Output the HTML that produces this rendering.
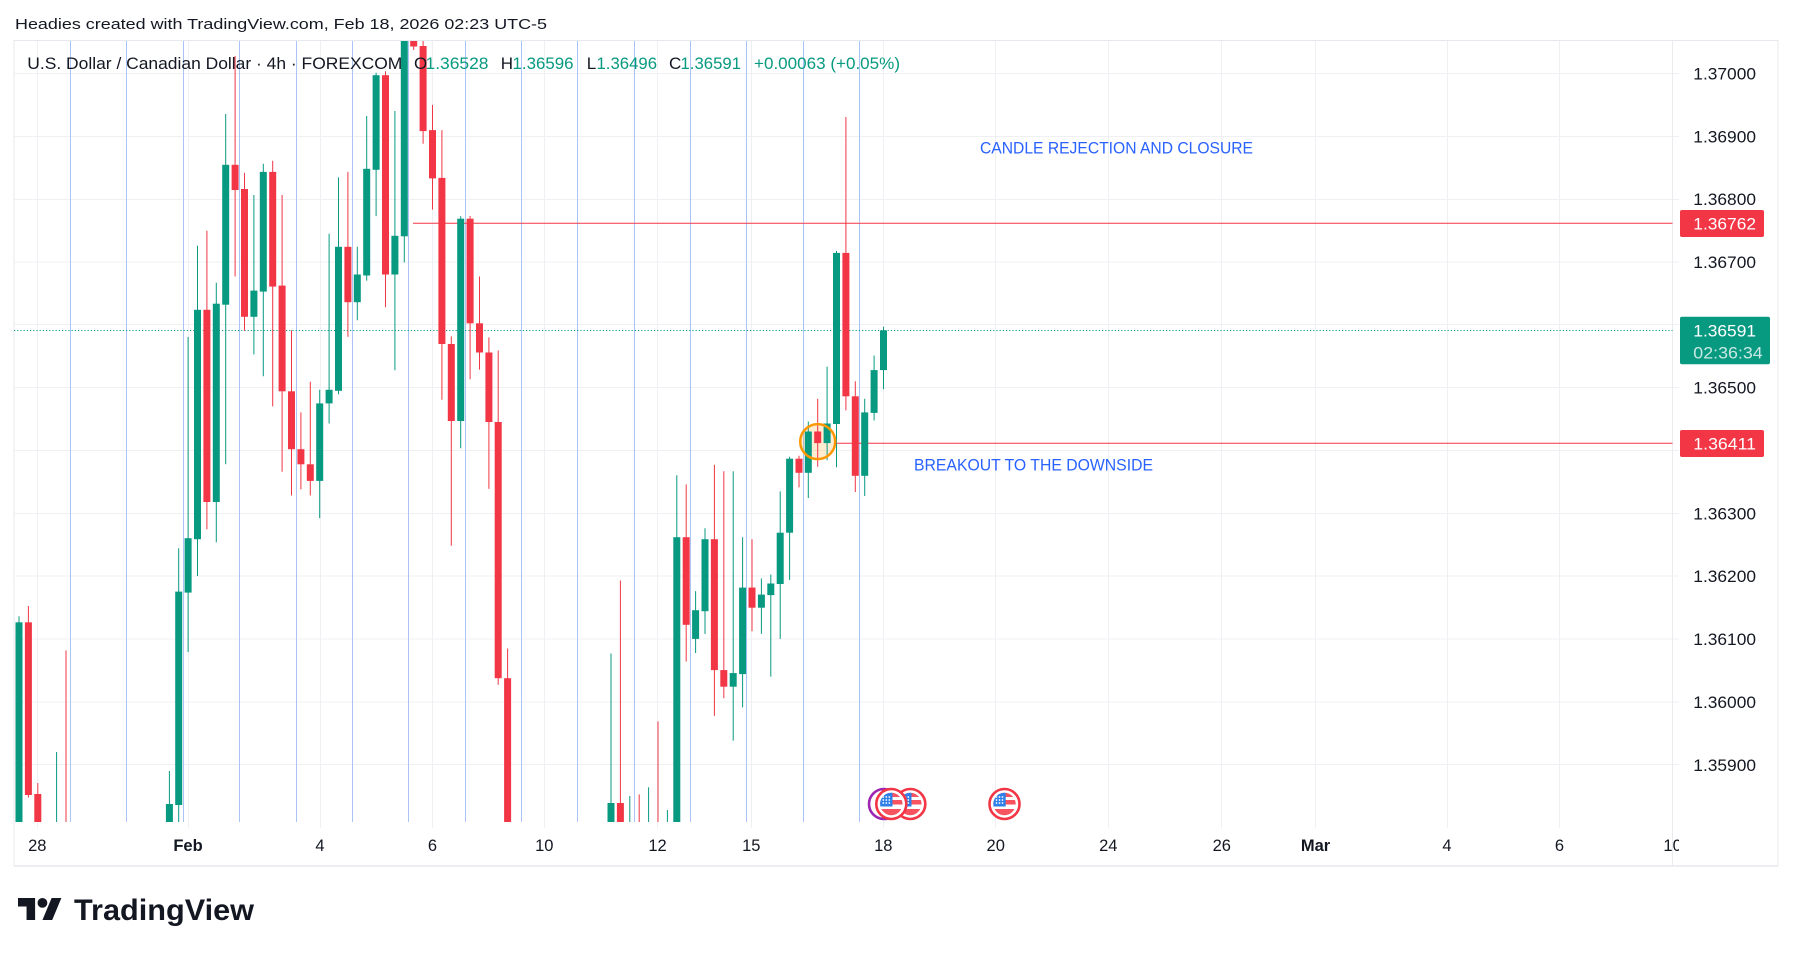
<!DOCTYPE html>
<html><head><meta charset="utf-8">
<style>
html,body{margin:0;padding:0;background:#fff;}
svg{display:block;}
text{font-family:"Liberation Sans",sans-serif;}
</style></head>
<body>
<svg width="1793" height="955" viewBox="0 0 1793 955" xmlns="http://www.w3.org/2000/svg">
<defs>
<clipPath id="plot"><rect x="14" y="41" width="1658.5" height="781"/></clipPath>
<clipPath id="taxis"><rect x="14" y="823" width="1665" height="42"/></clipPath>
<clipPath id="fc"><circle cx="0" cy="0" r="11.2"/></clipPath>
<g id="flag">
<circle r="15" fill="#fff" stroke="#f23645" stroke-width="2.6"/>
<g clip-path="url(#fc)">
<rect x="-12" y="-12" width="24" height="24" fill="#fff"/>
<rect x="-12" y="-12" width="24" height="5" fill="#f7525f"/>
<rect x="-12" y="-4" width="24" height="4.5" fill="#f7525f"/>
<rect x="-12" y="5" width="24" height="8" fill="#f7525f"/>
<rect x="-12" y="-12" width="13.2" height="14.5" fill="#2f7fe8"/>
<g fill="#fff">
<circle cx="-8" cy="-7" r="0.9"/><circle cx="-5" cy="-7" r="0.9"/><circle cx="-2" cy="-7" r="0.9"/>
<circle cx="-8" cy="-4" r="0.9"/><circle cx="-5" cy="-4" r="0.9"/><circle cx="-2" cy="-4" r="0.9"/>
<circle cx="-8" cy="-1" r="0.9"/><circle cx="-5" cy="-1" r="0.9"/><circle cx="-2" cy="-1" r="0.9"/>
</g>
</g>
</g>
</defs>

<rect width="1793" height="955" fill="#fff"/>

<!-- header -->
<text x="15" y="29" font-size="15" fill="#131722" textLength="532" lengthAdjust="spacingAndGlyphs">Headies created with TradingView.com, Feb 18, 2026 02:23 UTC-5</text>

<!-- frame -->
<rect x="14" y="40.5" width="1764" height="825" fill="#fff" stroke="#e6e8ed" stroke-width="1"/>
<line x1="14" y1="866" x2="1778" y2="866" stroke="#eceef2" stroke-width="2"/>

<!-- horizontal grid -->
<g stroke="#eef0f3" stroke-width="1">
<line x1="14" x2="1679" y1="73.5" y2="73.5"/>
<line x1="14" x2="1679" y1="136.5" y2="136.5"/>
<line x1="14" x2="1679" y1="199.5" y2="199.5"/>
<line x1="14" x2="1679" y1="262" y2="262"/>
<line x1="14" x2="1679" y1="324.5" y2="324.5"/>
<line x1="14" x2="1679" y1="387.5" y2="387.5"/>
<line x1="14" x2="1679" y1="450.5" y2="450.5"/>
<line x1="14" x2="1679" y1="513.5" y2="513.5"/>
<line x1="14" x2="1679" y1="576" y2="576"/>
<line x1="14" x2="1679" y1="639" y2="639"/>
<line x1="14" x2="1679" y1="702" y2="702"/>
<line x1="14" x2="1679" y1="764.5" y2="764.5"/>
</g>
<!-- vertical grid -->
<g stroke="#eef0f3" stroke-width="1">
<line y1="41" y2="828" x1="37.5" x2="37.5"/>
<line y1="41" y2="828" x1="188.5" x2="188.5"/>
<line y1="41" y2="828" x1="320.5" x2="320.5"/>
<line y1="41" y2="828" x1="432.5" x2="432.5"/>
<line y1="41" y2="828" x1="544.5" x2="544.5"/>
<line y1="41" y2="828" x1="657.5" x2="657.5"/>
<line y1="41" y2="828" x1="751.5" x2="751.5"/>
<line y1="41" y2="828" x1="883.5" x2="883.5"/>
<line y1="41" y2="828" x1="995.5" x2="995.5"/>
<line y1="41" y2="828" x1="1108.5" x2="1108.5"/>
<line y1="41" y2="828" x1="1221.5" x2="1221.5"/>
<line y1="41" y2="828" x1="1315.5" x2="1315.5"/>
<line y1="41" y2="828" x1="1447.5" x2="1447.5"/>
<line y1="41" y2="828" x1="1559.5" x2="1559.5"/>
</g>
<!-- price axis separator -->
<line x1="1672.5" x2="1672.5" y1="41" y2="866" stroke="#e9ebef" stroke-width="1"/>

<!-- session break lines -->
<g stroke="#a9c4f5" stroke-width="1">
<line y1="41" y2="822" x1="70.5" x2="70.5"/>
<line y1="41" y2="822" x1="126.5" x2="126.5"/>
<line y1="41" y2="822" x1="183.5" x2="183.5"/>
<line y1="41" y2="822" x1="239.5" x2="239.5"/>
<line y1="41" y2="822" x1="296.5" x2="296.5"/>
<line y1="41" y2="822" x1="352.5" x2="352.5"/>
<line y1="41" y2="822" x1="408.5" x2="408.5"/>
<line y1="41" y2="822" x1="465.5" x2="465.5"/>
<line y1="41" y2="822" x1="521.5" x2="521.5"/>
<line y1="41" y2="822" x1="577.5" x2="577.5"/>
<line y1="41" y2="822" x1="634.5" x2="634.5"/>
<line y1="41" y2="822" x1="690.5" x2="690.5"/>
<line y1="41" y2="822" x1="746.5" x2="746.5"/>
<line y1="41" y2="822" x1="803.5" x2="803.5"/>
<line y1="41" y2="822" x1="859.5" x2="859.5"/>
</g>

<g clip-path="url(#plot)">
<!-- horizontal lines -->
<line x1="413" x2="1673" y1="223.3" y2="223.3" stroke="#f23645" stroke-width="1"/>
<line x1="14" x2="1673" y1="330.5" y2="330.5" stroke="#089981" stroke-width="1" stroke-dasharray="1.2,2"/>
<line x1="836" x2="1673" y1="443.3" y2="443.3" stroke="#f23645" stroke-width="1"/>

<!-- orange circle fill (behind candles) -->
<circle cx="817.7" cy="441.6" r="17.5" fill="#ff9800" fill-opacity="0.18"/>

<!-- green wicks -->
<path fill="none" stroke="#089981" stroke-width="1" d="M19 616.2V860M56.6 752V860M169.4 771V860M178.7 548.3V860M188.1 337V652M197.5 245.8V576M216.3 282.6V542.3M225.7 114V464.3M253.9 195V354.5M263.3 163.8V376.2M319.7 389.8V518.1M329.1 233.8V423.5M338.5 177.4V394.3M357.3 246.8V320.3M366.7 116V280.6M376.1 72.7V216.1M394.9 111V370.2M404.3 10V262.4M460.7 216.1V448.2M611 653.5V860M629.8 796V860M648.6 787.3V860M667.4 810V860M676.8 475.3V860M695.6 591.1V653M705 528.2V633.9M733.2 471.3V740.6M742.6 537.2V707.4M761.4 578.5V633.9M770.8 574.5V676.6M780.2 491.4V638.9M789.6 456.7V580M808.3 421.5V498M827.1 366.6V460.2M836.5 250.9V467.3M864.7 398.8V496M874.1 355.5V420.5M883.5 326.9V389.3"/>
<!-- red wicks -->
<path fill="none" stroke="#f23645" stroke-width="1" d="M28.4 606V797.5M37.8 783V860M66 650.5V860M206.9 230.7V529.2M235.1 56V276.5M244.5 172.9V331M272.7 160.8V406.4M282.1 195V471.8M291.5 330.4V495.5M300.9 412.4V489.4M310.3 381.7V495.5M347.9 171.9V336.9M385.5 71.2V307.2M413.7 20V50M423.1 30V143.7M432.5 104.9V209.6M441.9 130.1V399.8M451.3 336.4V545.8M470.1 216V379.2M479.5 276.5V369.6M488.9 337.4V488.9M498.2 350.5V684.7M507.6 648.5V860M620.4 580.5V860M639.2 794.4V860M658 721.4V860M686.2 484.4V661.5M714.4 464.8V715.9M723.8 471.3V698.3M752 539.2V631.3M799 455.7V487.4M817.7 398.8V466.8M845.9 117V410.4M855.3 381.2V492"/>

<!-- green bodies -->
<g fill="#089981">
<rect x="15.5" y="622.3" width="7" height="237.7"/>
<rect x="165.9" y="804" width="7" height="56"/>
<rect x="175.2" y="591.6" width="7" height="213.4"/>
<rect x="184.6" y="538.2" width="7" height="54.4"/>
<rect x="194" y="309.8" width="7" height="229.4"/>
<rect x="212.8" y="303.7" width="7" height="198.3"/>
<rect x="222.2" y="164.8" width="7" height="139.9"/>
<rect x="250.4" y="290.6" width="7" height="26.2"/>
<rect x="259.8" y="171.9" width="7" height="119.7"/>
<rect x="316.2" y="403.4" width="7" height="77.5"/>
<rect x="325.6" y="389.8" width="7" height="13.6"/>
<rect x="335" y="246.8" width="7" height="144"/>
<rect x="353.8" y="274.5" width="7" height="27.7"/>
<rect x="363.2" y="168.8" width="7" height="106.7"/>
<rect x="372.6" y="75.2" width="7" height="94.6"/>
<rect x="391.4" y="235.8" width="7" height="38.7"/>
<rect x="400.8" y="20" width="7" height="216.3"/>
<rect x="457.2" y="218.7" width="7" height="202.3"/>
<rect x="607.5" y="803" width="7" height="57"/>
<rect x="673.3" y="537.2" width="7" height="322.8"/>
<rect x="692.1" y="610.2" width="7" height="28.7"/>
<rect x="701.5" y="539.2" width="7" height="72"/>
<rect x="729.7" y="673.1" width="7" height="13.6"/>
<rect x="739.1" y="587.6" width="7" height="86.5"/>
<rect x="757.9" y="594.6" width="7" height="13.1"/>
<rect x="767.3" y="583.5" width="7" height="11.6"/>
<rect x="776.7" y="532.7" width="7" height="51.3"/>
<rect x="786.1" y="458.7" width="7" height="74"/>
<rect x="804.8" y="431.5" width="7" height="41.3"/>
<rect x="823.6" y="423.5" width="7" height="19.6"/>
<rect x="833" y="252.9" width="7" height="171.1"/>
<rect x="861.2" y="412.4" width="7" height="63.4"/>
<rect x="870.6" y="370.1" width="7" height="42.8"/>
<rect x="880" y="330.4" width="7" height="39.7"/>
</g>
<!-- red bodies -->
<g fill="#f23645">
<rect x="24.9" y="622.3" width="7" height="172.7"/>
<rect x="34.3" y="794" width="7" height="66"/>
<rect x="203.4" y="309.8" width="7" height="192.2"/>
<rect x="231.6" y="164.8" width="7" height="25.2"/>
<rect x="241" y="189" width="7" height="127.8"/>
<rect x="269.2" y="171.9" width="7" height="114.7"/>
<rect x="278.6" y="285.6" width="7" height="105.7"/>
<rect x="288" y="391.3" width="7" height="57.9"/>
<rect x="297.4" y="449.2" width="7" height="15.1"/>
<rect x="306.8" y="464.3" width="7" height="16.6"/>
<rect x="344.4" y="246.8" width="7" height="55.4"/>
<rect x="382" y="75.2" width="7" height="199.3"/>
<rect x="410.2" y="30" width="7" height="16.5"/>
<rect x="419.6" y="46" width="7" height="85.1"/>
<rect x="429" y="130.1" width="7" height="48.3"/>
<rect x="438.4" y="177.9" width="7" height="166.1"/>
<rect x="447.8" y="344" width="7" height="77"/>
<rect x="466.6" y="218.7" width="7" height="104.6"/>
<rect x="476" y="323.3" width="7" height="29.2"/>
<rect x="485.4" y="352.5" width="7" height="69.5"/>
<rect x="494.7" y="422" width="7" height="256.2"/>
<rect x="504.1" y="678.2" width="7" height="181.8"/>
<rect x="616.9" y="803" width="7" height="57"/>
<rect x="682.7" y="537.2" width="7" height="87.6"/>
<rect x="710.9" y="539.2" width="7" height="130.9"/>
<rect x="720.3" y="670.1" width="7" height="16.6"/>
<rect x="748.5" y="587.6" width="7" height="20.1"/>
<rect x="795.5" y="458.7" width="7" height="14.1"/>
<rect x="814.2" y="431.5" width="7" height="11.6"/>
<rect x="842.4" y="252.9" width="7" height="143.4"/>
<rect x="851.8" y="396.3" width="7" height="79.5"/>
</g>

<!-- orange circle stroke -->
<circle cx="817.7" cy="441.6" r="17.5" fill="none" stroke="#ff9800" stroke-width="2.5"/>

<!-- events -->
<circle cx="884" cy="804" r="15" fill="#fff" stroke="#9c27b0" stroke-width="2.6"/>
<use href="#flag" x="910.3" y="804"/>
<use href="#flag" x="891.3" y="804"/>
<use href="#flag" x="1004.5" y="804"/>
</g>

<!-- annotations -->
<text x="980" y="153.5" font-size="16.5" fill="#2962ff" textLength="273" lengthAdjust="spacingAndGlyphs">CANDLE REJECTION AND CLOSURE</text>
<text x="914" y="470.3" font-size="16.5" fill="#2962ff" textLength="239" lengthAdjust="spacingAndGlyphs">BREAKOUT TO THE DOWNSIDE</text>

<!-- legend -->
<g font-size="17">
<text x="27.3" y="69" fill="#131722" textLength="375" lengthAdjust="spacingAndGlyphs">U.S. Dollar / Canadian Dollar · 4h · FOREXCOM</text>
<text x="414" y="69" fill="#131722">O</text>
<text x="425.5" y="69" fill="#089981" textLength="63" lengthAdjust="spacingAndGlyphs">1.36528</text>
<text x="500.7" y="69" fill="#131722">H</text>
<text x="512.5" y="69" fill="#089981" textLength="61" lengthAdjust="spacingAndGlyphs">1.36596</text>
<text x="586.7" y="69" fill="#131722">L</text>
<text x="596.5" y="69" fill="#089981" textLength="60.5" lengthAdjust="spacingAndGlyphs">1.36496</text>
<text x="669" y="69" fill="#131722">C</text>
<text x="680.5" y="69" fill="#089981" textLength="60.5" lengthAdjust="spacingAndGlyphs">1.36591</text>
<text x="754" y="69" fill="#089981" textLength="146" lengthAdjust="spacingAndGlyphs">+0.00063 (+0.05%)</text>
</g>

<!-- price axis labels -->
<g font-size="17" fill="#131722">
<text x="1693.3" y="79.5" textLength="62.7" lengthAdjust="spacingAndGlyphs">1.37000</text>
<text x="1693.3" y="142.3" textLength="62.7" lengthAdjust="spacingAndGlyphs">1.36900</text>
<text x="1693.3" y="205.1" textLength="62.7" lengthAdjust="spacingAndGlyphs">1.36800</text>
<text x="1693.3" y="268" textLength="62.7" lengthAdjust="spacingAndGlyphs">1.36700</text>
<text x="1693.3" y="393.7" textLength="62.7" lengthAdjust="spacingAndGlyphs">1.36500</text>
<text x="1693.3" y="519.4" textLength="62.7" lengthAdjust="spacingAndGlyphs">1.36300</text>
<text x="1693.3" y="582.2" textLength="62.7" lengthAdjust="spacingAndGlyphs">1.36200</text>
<text x="1693.3" y="645.1" textLength="62.7" lengthAdjust="spacingAndGlyphs">1.36100</text>
<text x="1693.3" y="707.9" textLength="62.7" lengthAdjust="spacingAndGlyphs">1.36000</text>
<text x="1693.3" y="770.8" textLength="62.7" lengthAdjust="spacingAndGlyphs">1.35900</text>
</g>
<!-- price boxes -->
<rect x="1680" y="210" width="84" height="27" rx="2" fill="#f23645"/>
<text x="1693.3" y="229.5" font-size="17" fill="#fff" textLength="62.7" lengthAdjust="spacingAndGlyphs">1.36762</text>
<rect x="1680" y="316.7" width="90" height="47.6" rx="2" fill="#089981"/>
<text x="1693.3" y="336.7" font-size="17" fill="#fff" textLength="62.7" lengthAdjust="spacingAndGlyphs">1.36591</text>
<text x="1693.3" y="358.3" font-size="17" fill="#fff" fill-opacity="0.78" textLength="69.4" lengthAdjust="spacingAndGlyphs">02:36:34</text>
<rect x="1680" y="430" width="84" height="27" rx="2" fill="#f23645"/>
<text x="1693.3" y="449.5" font-size="17" fill="#fff" textLength="62.7" lengthAdjust="spacingAndGlyphs">1.36411</text>

<!-- time axis labels -->
<g font-size="16.5" fill="#131722" text-anchor="middle" clip-path="url(#taxis)">
<text x="37.3" y="851">28</text>
<text x="188" y="851" font-weight="bold">Feb</text>
<text x="320" y="851">4</text>
<text x="432.5" y="851">6</text>
<text x="544.3" y="851">10</text>
<text x="657.5" y="851">12</text>
<text x="751.3" y="851">15</text>
<text x="883.3" y="851">18</text>
<text x="995.7" y="851">20</text>
<text x="1108.3" y="851">24</text>
<text x="1221.8" y="851">26</text>
<text x="1315.5" y="851" font-weight="bold">Mar</text>
<text x="1447" y="851">4</text>
<text x="1559.5" y="851">6</text>
<text x="1672.6" y="851">10</text>
</g>

<!-- TradingView logo -->
<g transform="translate(18,893.1) scale(1.222)" fill="#131722">
<path d="M14 22H7V11H0V4h14v18zM28 22h-8l7.5-18h8L28 22z"/>
<circle cx="20" cy="8" r="4"/>
</g>
<text x="74" y="920" font-size="30" font-weight="bold" fill="#131722" textLength="180" lengthAdjust="spacingAndGlyphs">TradingView</text>
</svg>
</body></html>
